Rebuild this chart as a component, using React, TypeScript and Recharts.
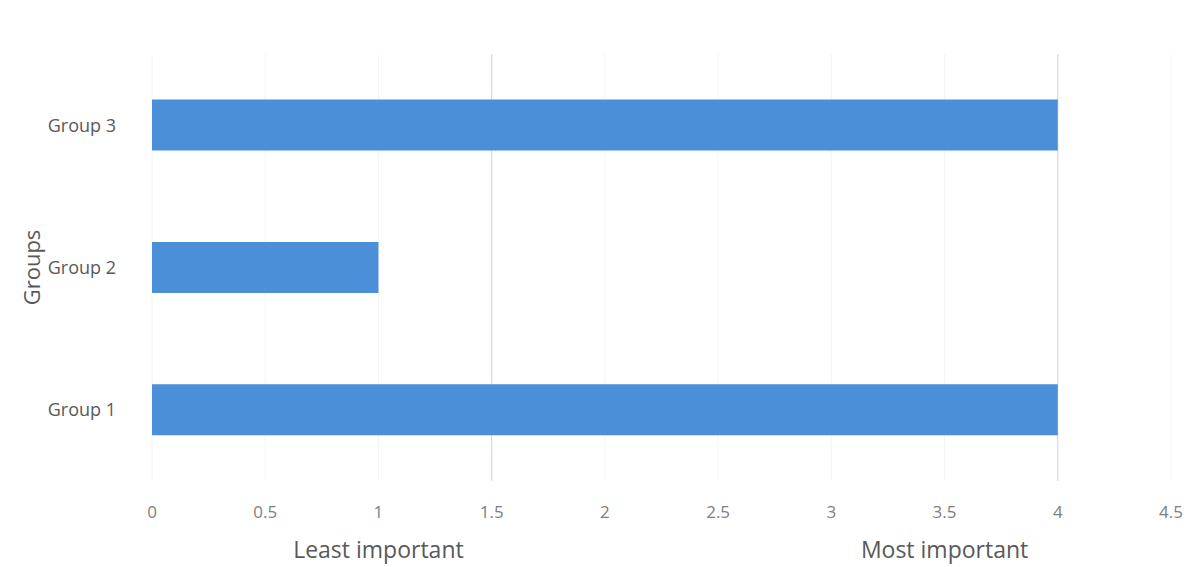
import React from 'react';
import { BarChart, Bar, XAxis, YAxis, CartesianGrid, Label } from 'recharts';

// Importance rating per group
const groups = ['Group 1', 'Group 2', 'Group 3'];
const ratings = [4, 1, 4];

// Value axis ticks and the captions shown under some of them
const xTicks = [0, 0.5, 1, 1.5, 2, 2.5, 3, 3.5, 4, 4.5];
const captionValues = [1, 3.5];
const captionTexts = ['Least important', 'Most important'];

// Gridlines drawn more strongly
const strongGridValues = [1.5, 4];

const data = groups.map((g, i) => ({ group: g, rating: ratings[i] }));

const FONT = '"Open Sans", "DejaVu Sans", sans-serif';
const BAR_COLOR = '#4a8fd8';

const XTick = (props: any) => {
  const { x, y, payload } = props;
  const idx = captionValues.indexOf(payload.value);
  return (
    <g>
      <text x={x} y={y} dy="0.71em" textAnchor="middle" fontFamily={FONT} fontSize={17} fill="#808080">
        {String(payload.value)}
      </text>
      {idx >= 0 && (
        <text x={x} y={y + 36} dy="0.71em" textAnchor="middle" fontFamily={FONT} fontSize={23} fill="#595959">
          {captionTexts[idx]}
        </text>
      )}
    </g>
  );
};

const GroupsLabel = (props: any) => {
  const vb = props.viewBox || { x: 0, y: 0, width: 0, height: 0 };
  const cx = vb.x + 31;
  const cy = vb.y + vb.height / 2;
  return (
    <text
      x={cx}
      y={cy}
      transform={`rotate(-90 ${cx} ${cy})`}
      textAnchor="middle"
      dominantBaseline="central"
      fontFamily={FONT}
      fontSize={22}
      fill="#595959"
    >
      Groups
    </text>
  );
};

export default function App() {
  return (
    <div style={{ position: 'absolute', left: 0, top: 0, width: 1202, height: 567, background: '#ffffff' }}>
      <BarChart
        width={1202}
        height={567}
        data={data}
        layout="vertical"
        margin={{ top: 54, right: 31, bottom: 16, left: 0 }}
        barCategoryGap="32%"
      >
        <CartesianGrid horizontal={false} vertical={true} stroke="#f4f4f4" />
        <CartesianGrid horizontal={false} vertical={true} verticalValues={strongGridValues} stroke="#d4d4d4" />
        <XAxis
          type="number"
          domain={[0, 4.5]}
          ticks={xTicks}
          axisLine={false}
          tickLine={false}
          tickSize={0}
          tickMargin={25}
          height={70}
          tick={<XTick />}
          interval={0}
        />
        <YAxis
          type="category"
          dataKey="group"
          reversed
          width={152}
          axisLine={false}
          tickLine={false}
          tickSize={0}
          tickMargin={36}
          tick={{ fontFamily: FONT, fontSize: 18, fill: '#595959' }}
        >
          <Label content={<GroupsLabel />} />
        </YAxis>
        <Bar dataKey="rating" fill={BAR_COLOR} isAnimationActive={false} />
      </BarChart>
    </div>
  );
}
